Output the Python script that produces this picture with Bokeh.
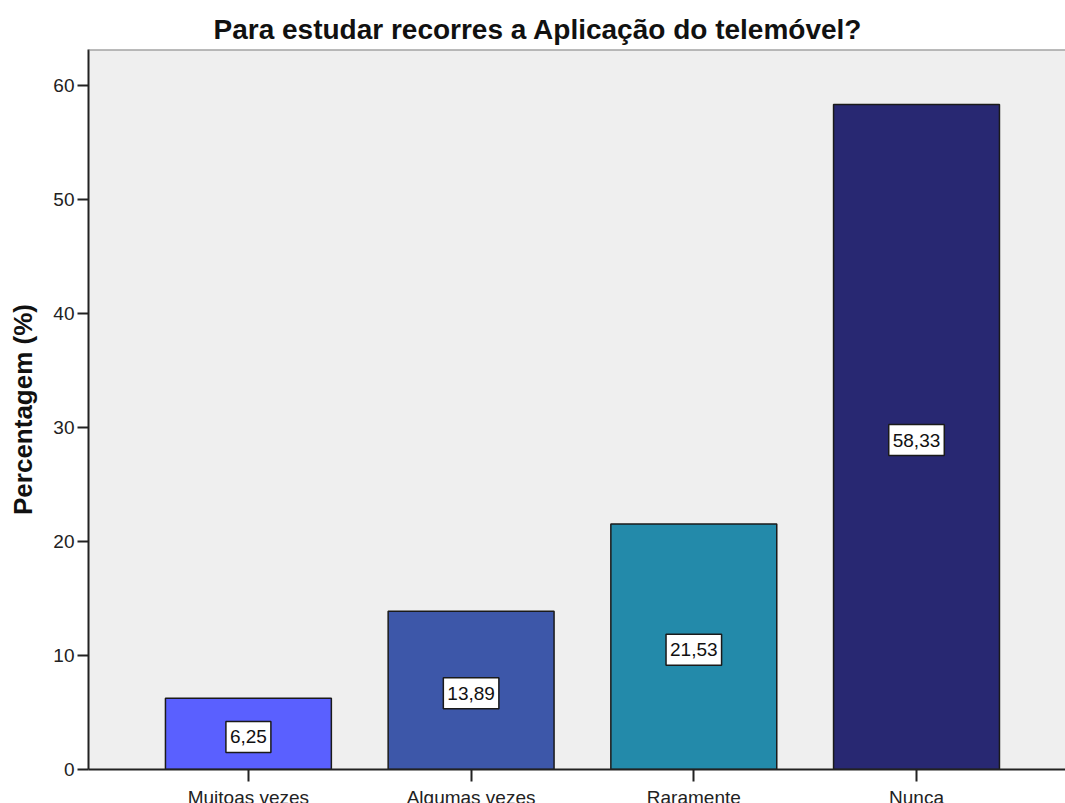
from bokeh.plotting import figure
from bokeh.models import (Range1d, FixedTicker, ColumnDataSource, Label, Span, Title)
from bokeh.embed import file_html
from bokeh.resources import INLINE

title_text = "Para estudar recorres a Aplicação do telemóvel?"
y_label = "Percentagem (%)"
categories = ["Muitoas vezes", "Algumas vezes", "Raramente", "Nunca"]
values = [6.25, 13.89, 21.53, 58.33]
value_labels = ["6,25", "13,89", "21,53", "58,33"]
colors = ["#5a60ff", "#3d57a9", "#238aaa", "#282872"]
y_ticks = [0, 10, 20, 30, 40, 50, 60]

FONT = "Liberation Sans"
xs = list(range(1, len(categories) + 1))

src = ColumnDataSource(dict(x=xs, top=values, color=colors))

p = figure(frame_width=977, frame_height=720,
           x_range=Range1d(0.282, 4.669), y_range=Range1d(0, 63.16),
           output_backend="svg", toolbar_location=None,
           min_border_left=88, min_border_right=0, min_border_top=49, min_border_bottom=20)

p.background_fill_color = "#efefef"
p.border_fill_color = "white"
p.outline_line_color = None
p.xgrid.visible = False
p.ygrid.visible = False

p.vbar(x="x", top="top", bottom=0, width=0.745, fill_color="color",
       line_color="#1a1a1a", line_width=1.5, source=src)

# top frame line
p.add_layout(Span(location=63.16, dimension="width", line_color="#7f7f7f", line_width=2))

# value labels
for xv, v, lab in zip(xs, values, value_labels):
    p.add_layout(Label(x=xv, y=v / 2, text=lab, text_align="center",
                       text_baseline="middle", y_offset=-3,
                       text_font=FONT, text_font_size="19px", text_color="#111111",
                       background_fill_color="white", border_line_color="#1a1a1a",
                       border_line_width=1.5,
                       padding=dict(left=4, right=4, top=9, bottom=9)))

# axes
xa = p.xaxis[0]
xa.ticker = FixedTicker(ticks=xs)
xa.major_label_overrides = {x: c for x, c in zip(xs, categories)}
xa.major_label_text_font = FONT
xa.major_label_text_font_size = "19px"
xa.major_label_text_color = "#222222"
xa.major_label_standoff = 5
xa.major_tick_out = 12
xa.major_tick_in = 0
xa.minor_tick_out = 0
xa.minor_tick_in = 0
xa.axis_line_width = 2
xa.axis_line_color = "#222222"
xa.major_tick_line_width = 2
xa.major_tick_line_color = "#222222"

ya = p.yaxis[0]
ya.ticker = FixedTicker(ticks=y_ticks)
ya.major_label_text_font = FONT
ya.major_label_text_font_size = "19px"
ya.major_label_text_color = "#222222"
ya.major_label_standoff = 3
ya.major_tick_out = 11
ya.major_tick_in = 0
ya.minor_tick_out = 0
ya.minor_tick_in = 0
ya.axis_line_width = 2
ya.axis_line_color = "#222222"
ya.major_tick_line_width = 2
ya.major_tick_line_color = "#222222"
ya.axis_label = y_label
ya.axis_label_text_font = FONT
ya.axis_label_text_font_size = "26px"
ya.axis_label_text_font_style = "bold"
ya.axis_label_text_color = "#111111"
ya.axis_label_standoff = 12

t = Title(text=title_text, align="left", offset=125, text_font=FONT,
          text_font_size="28px", text_font_style="bold", text_color="#111111")
p.add_layout(t, "above")

open("out.html", "w").write(file_html(p, INLINE))
